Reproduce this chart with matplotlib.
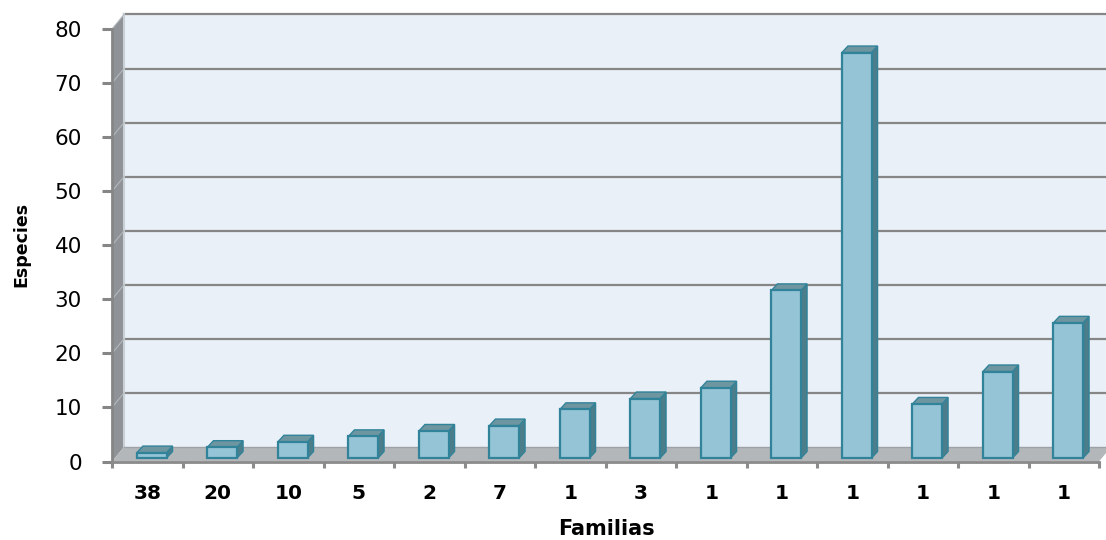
import matplotlib
matplotlib.use("Agg")
import matplotlib.pyplot as plt
from matplotlib.patches import Polygon

# Species count per group of families
familias = ["38", "20", "10", "5", "2", "7", "1", "3", "1", "1", "1", "1", "1", "1"]
especies = [1, 2, 3, 4, 5, 6, 9, 11, 13, 31, 75, 10, 16, 25]
y_ticks = [0, 10, 20, 30, 40, 50, 60, 70, 80]

# colours of the pseudo-3D column chart
WALL = "#E9F0F7"
GRID = "#868686"
SIDE_WALL = "#8F9397"
FLOOR = "#B4B7BA"
BAR_FRONT = "#94C4D6"
BAR_EDGE = "#31839A"
BAR_SIDE = "#4C7D8A"
BAR_TOP = "#6E96A1"

fig = plt.figure(figsize=(11.06, 5.40), dpi=100)
ax = fig.add_axes([112 / 1106, (540 - 461.5) / 540, 987 / 1106, 432.5 / 540])
n = len(especies)
ax.set_xlim(-0.5, n - 0.5)
ax.set_ylim(0, 80)
ax.patch.set_visible(False)


def px(dx, dy):
    # convert a pixel depth offset into data units
    sx = (n) / ax.bbox.width
    sy = 80 / ax.bbox.height
    return dx * sx, dy * sy


wdx, wdy = px(12, 14.5)
x0, x1 = -0.5, n - 0.5

# back wall
ax.add_patch(Polygon([(x0 + wdx, wdy), (x1 + 2 * wdx, wdy), (x1 + 2 * wdx, 80 + wdy),
                      (x0 + wdx, 80 + wdy)], closed=True, facecolor=WALL,
                     edgecolor="none", clip_on=False, zorder=0))
for v in y_ticks[1:]:
    ax.plot([x0 + wdx, x1 + 2 * wdx], [v + wdy, v + wdy], color=GRID, lw=1.6,
            clip_on=False, zorder=1)

# left side wall
ax.add_patch(Polygon([(x0, 0), (x0 + wdx, wdy), (x0 + wdx, 80 + wdy), (x0, 80)],
                     closed=True, facecolor=SIDE_WALL, edgecolor="none",
                     clip_on=False, zorder=1))
ax.plot([x0 + wdx, x0 + wdx], [wdy, 80 + wdy], color="#C9D0D6", lw=1.5,
        clip_on=False, zorder=1.5)
for v in y_ticks[1:]:
    ax.plot([x0, x0 + wdx], [v, v + wdy], color="#B3B8BC", lw=0.8,
            clip_on=False, zorder=1.5)

# floor
ax.add_patch(Polygon([(x0, 0), (x1, 0), (x1 + wdx, wdy), (x0 + wdx, wdy)],
                     closed=True, facecolor=FLOOR, edgecolor="none",
                     clip_on=False, zorder=2))
ax.plot([x0 + wdx, x1 + wdx], [wdy, wdy], color="#9EA2A6", lw=1, clip_on=False, zorder=2)

# columns: front face, side face and top face
bw = 0.42
ox, oy = px(4.5, 3.5)
ddx, ddy = px(6, 6.5)
xs = [i + ox for i in range(n)]
ax.bar(xs, especies, width=bw, bottom=oy, color=BAR_FRONT, edgecolor=BAR_EDGE,
       linewidth=1.6, zorder=4, clip_on=False)
for x, v in zip(xs, especies):
    xl, xr = x - bw / 2, x + bw / 2
    top = oy + v
    ax.add_patch(Polygon([(xr, oy), (xr + ddx, oy + ddy), (xr + ddx, top + ddy), (xr, top)],
                         closed=True, facecolor=BAR_SIDE, edgecolor=BAR_EDGE,
                         linewidth=1.0, zorder=3, clip_on=False))
    ax.add_patch(Polygon([(xl, top), (xr, top), (xr + ddx, top + ddy), (xl + ddx, top + ddy)],
                         closed=True, facecolor=BAR_TOP, edgecolor=BAR_EDGE,
                         linewidth=1.0, zorder=3, clip_on=False))

# axes
for side in ["top", "right"]:
    ax.spines[side].set_visible(False)
ax.spines["left"].set_color(GRID)
ax.spines["left"].set_linewidth(2)
ax.spines["bottom"].set_color("#8A8A8A")
ax.spines["bottom"].set_linewidth(2)
ax.spines["left"].set_zorder(5)
ax.spines["bottom"].set_zorder(5)

ax.set_yticks(y_ticks)
ax.tick_params(axis="y", length=7.2, width=2.2, color=GRID, pad=14.5, labelsize=15.5)
ax.set_xticks(range(n))
ax.set_xticklabels(familias, fontsize=14.5, fontweight="bold")
ax.set_xticks([i - 0.5 for i in range(n + 1)], minor=True)
ax.tick_params(axis="x", which="major", length=0, pad=16.5)
ax.tick_params(axis="x", which="minor", length=4.5, width=2.2, color="#8C8C8C")

fig.text(606 / 1106, 1 - 529 / 540, "Familias", ha="center", va="center",
         fontsize=15, fontweight="bold")
fig.text(21 / 1106, 1 - 244 / 540, "Especies", ha="center", va="center",
         rotation=90, fontsize=12.5, fontweight="bold")

fig.savefig("out.png", dpi=100)
